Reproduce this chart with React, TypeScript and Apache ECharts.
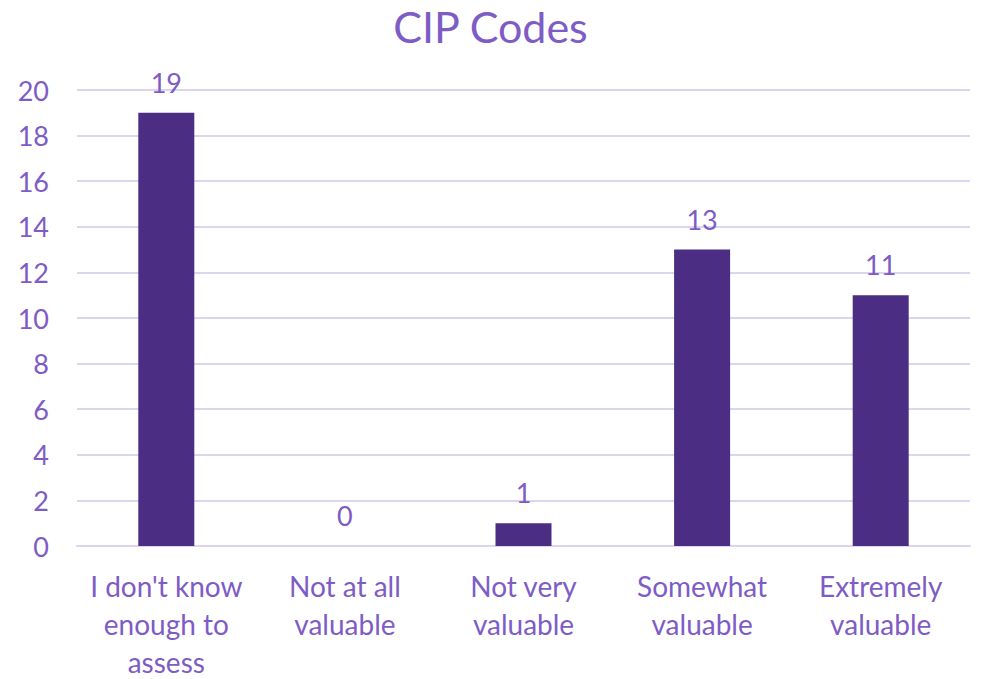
import React, { useEffect, useRef } from "react";
import * as echarts from "echarts";

const categories = [
  "I don't know\nenough to\nassess",
  "Not at all\nvaluable",
  "Not very\nvaluable",
  "Somewhat\nvaluable",
  "Extremely\nvaluable",
];
const values = [19, 0, 1, 13, 11];
const yTicks = { min: 0, max: 20, interval: 2 };

const FONT = "Lato, 'Open Sans', sans-serif";
const TEXT = "#7E5CC6";

export default function App() {
  const ref = useRef<HTMLDivElement>(null);
  useEffect(() => {
    document.body.style.margin = "0";
    const chart = echarts.init(ref.current!, null, { renderer: "svg" });
    chart.setOption({
      animation: false,
      title: {
        text: "CIP Codes",
        left: "center",
        top: 0,
        textStyle: { color: TEXT, fontSize: 43, fontWeight: "normal", fontFamily: FONT },
      },
      grid: { left: 77, right: 11, top: 90, bottom: 133, outerBoundsMode: "none", containLabel: false },
      xAxis: {
        type: "category",
        data: categories,
        axisLine: { show: true, lineStyle: { color: "#DDD5EE", width: 2 } },
        axisTick: { show: false },
        axisLabel: {
          color: TEXT,
          fontSize: 28,
          fontFamily: FONT,
          lineHeight: 38,
          margin: 21,
          interval: 0,
        },
      },
      yAxis: {
        type: "value",
        min: yTicks.min,
        max: yTicks.max,
        interval: yTicks.interval,
        axisLine: { show: false },
        axisTick: { show: false },
        splitLine: { lineStyle: { color: "#DDD5EE", width: 2 } },
        axisLabel: { color: TEXT, fontSize: 27, fontFamily: FONT, margin: 28 },
      },
      series: [
        {
          type: "bar",
          data: values,
          barWidth: 56,
          itemStyle: { color: "#4B2D83" },
          label: {
            show: true,
            position: "top",
            distance: 17,
            color: TEXT,
            fontSize: 27,
            fontFamily: FONT,
          },
        },
      ],
    });
    return () => chart.dispose();
  }, []);
  return <div ref={ref} style={{ width: 981, height: 679 }} />;
}
